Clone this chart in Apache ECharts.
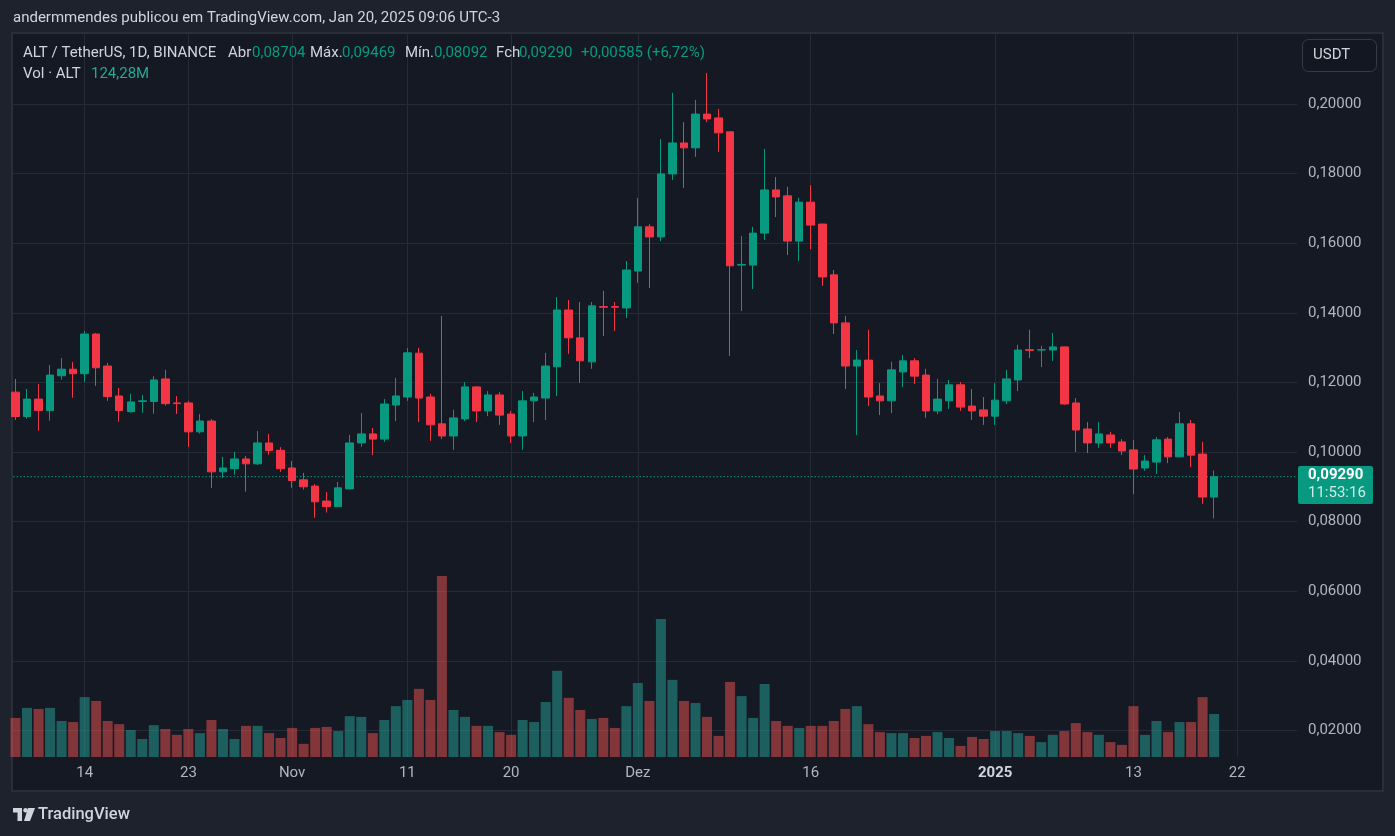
<!DOCTYPE html>
<html><head><meta charset="utf-8">
<script src="https://cdn.jsdelivr.net/npm/echarts@6/dist/echarts.min.js"></script>
<style>html,body{margin:0;padding:0;background:#1e222d;}#c{width:1395px;height:836px;}</style>
</head><body><div id="c"></div>
<script>
// ---- data ----
const dates = [
 '2024-10-08','2024-10-09','2024-10-10','2024-10-11','2024-10-12','2024-10-13','2024-10-14','2024-10-15','2024-10-16','2024-10-17',
 '2024-10-18','2024-10-19','2024-10-20','2024-10-21','2024-10-22','2024-10-23','2024-10-24','2024-10-25','2024-10-26','2024-10-27',
 '2024-10-28','2024-10-29','2024-10-30','2024-10-31','2024-11-01','2024-11-02','2024-11-03','2024-11-04','2024-11-05','2024-11-06',
 '2024-11-07','2024-11-08','2024-11-09','2024-11-10','2024-11-11','2024-11-12','2024-11-13','2024-11-14','2024-11-15','2024-11-16',
 '2024-11-17','2024-11-18','2024-11-19','2024-11-20','2024-11-21','2024-11-22','2024-11-23','2024-11-24','2024-11-25','2024-11-26',
 '2024-11-27','2024-11-28','2024-11-29','2024-11-30','2024-12-01','2024-12-02','2024-12-03','2024-12-04','2024-12-05','2024-12-06',
 '2024-12-07','2024-12-08','2024-12-09','2024-12-10','2024-12-11','2024-12-12','2024-12-13','2024-12-14','2024-12-15','2024-12-16',
 '2024-12-17','2024-12-18','2024-12-19','2024-12-20','2024-12-21','2024-12-22','2024-12-23','2024-12-24','2024-12-25','2024-12-26',
 '2024-12-27','2024-12-28','2024-12-29','2024-12-30','2024-12-31','2025-01-01','2025-01-02','2025-01-03','2025-01-04','2025-01-05',
 '2025-01-06','2025-01-07','2025-01-08','2025-01-09','2025-01-10','2025-01-11','2025-01-12','2025-01-13','2025-01-14','2025-01-15',
 '2025-01-16','2025-01-17','2025-01-18','2025-01-19','2025-01-20'
];
const opens = [
 0.1172,0.1102,0.1152,0.1119,0.1219,0.1238,0.1225,0.1339,0.1247,0.1161,
 0.1116,0.1145,0.1145,0.1210,0.1141,0.1141,0.1058,0.1089,0.0943,0.0952,
 0.0980,0.0966,0.1026,0.1005,0.0954,0.0920,0.0902,0.0859,0.0843,0.0894,
 0.1026,0.1052,0.1037,0.1135,0.1158,0.1284,0.1158,0.1081,0.1046,0.1095,
 0.1187,0.1118,0.1164,0.1109,0.1046,0.1147,0.1155,0.1245,0.1408,0.1328,
 0.1259,0.1418,0.1418,0.1414,0.1520,0.1647,0.1618,0.1799,0.1888,0.1874,
 0.1971,0.1960,0.1920,0.1537,0.1537,0.1629,0.1753,0.1736,0.1606,0.1718,
 0.1655,0.1509,0.1371,0.1247,0.1264,0.1161,0.1147,0.1230,0.1262,0.1221,
 0.1118,0.1147,0.1193,0.1132,0.1121,0.1103,0.1147,0.1207,0.1294,0.1293,
 0.1293,0.1302,0.1141,0.1066,0.1026,0.1049,0.1029,0.1006,0.0954,0.0971,
 0.1037,0.0986,0.1081,0.0994,0.08704
];
const closes = [
 0.1102,0.1152,0.1119,0.1221,0.1238,0.1225,0.1339,0.1242,0.1159,0.1119,
 0.1144,0.1147,0.1207,0.1139,0.1139,0.1058,0.1089,0.0943,0.0954,0.0980,
 0.0966,0.1026,0.1004,0.0952,0.0918,0.0900,0.0857,0.0843,0.0897,0.1026,
 0.1052,0.1037,0.1138,0.1161,0.1285,0.1155,0.1078,0.1046,0.1098,0.1187,
 0.1118,0.1164,0.1106,0.1046,0.1147,0.1158,0.1247,0.1408,0.1328,0.1262,
 0.1420,0.1416,0.1416,0.1523,0.1647,0.1618,0.1799,0.1888,0.1874,0.1971,
 0.1957,0.1917,0.1535,0.1539,0.1629,0.1753,0.1733,0.1606,0.1718,0.1652,
 0.1503,0.1371,0.1247,0.1264,0.1158,0.1147,0.1236,0.1262,0.1218,0.1118,
 0.1152,0.1193,0.1129,0.1118,0.1103,0.1149,0.1210,0.1293,0.1292,0.1294,
 0.1302,0.1138,0.1063,0.1026,0.1052,0.1026,0.1003,0.0951,0.0974,0.1035,
 0.0986,0.1081,0.0991,0.08705,0.09290
];
const lows = [
 0.1092,0.1096,0.1061,0.1090,0.1208,0.1156,0.1201,0.1190,0.1147,0.1087,
 0.1113,0.1113,0.1110,0.1133,0.1109,0.1015,0.1053,0.0897,0.0926,0.0935,
 0.0886,0.0963,0.0992,0.0943,0.0897,0.0892,0.0811,0.0826,0.0842,0.0893,
 0.1015,0.0991,0.1029,0.1089,0.1147,0.1086,0.1032,0.1037,0.1006,0.1089,
 0.1086,0.1103,0.1078,0.1026,0.1006,0.1086,0.1092,0.1161,0.1282,0.1198,
 0.1239,0.1333,0.1348,0.1385,0.1486,0.1471,0.1606,0.1782,0.1759,0.1848,
 0.1948,0.1862,0.1276,0.1405,0.1468,0.1609,0.1675,0.1566,0.1549,0.1583,
 0.1477,0.1339,0.1181,0.1049,0.1132,0.1106,0.1112,0.1187,0.1195,0.1098,
 0.1109,0.1124,0.1118,0.1092,0.1078,0.1078,0.1138,0.1175,0.1270,0.1244,
 0.1262,0.1136,0.1000,0.0997,0.1012,0.1012,0.0991,0.0879,0.0946,0.0937,
 0.0968,0.0985,0.0957,0.0851,0.08092
];
const highs = [
 0.1210,0.1181,0.1195,0.1250,0.1270,0.1259,0.1348,0.1342,0.1256,0.1184,
 0.1167,0.1164,0.1218,0.1236,0.1161,0.1147,0.1109,0.1095,0.0986,0.1000,
 0.0989,0.1060,0.1052,0.1014,0.0974,0.0940,0.0908,0.0885,0.0914,0.1049,
 0.1112,0.1069,0.1152,0.1213,0.1299,0.1299,0.1167,0.1391,0.1121,0.1201,
 0.1189,0.1175,0.1172,0.1118,0.1175,0.1170,0.1285,0.1445,0.1437,0.1431,
 0.1431,0.1463,0.1431,0.1549,0.1730,0.1655,0.1899,0.2032,0.1948,0.2012,
 0.2089,0.1986,0.1920,0.1621,0.1647,0.1871,0.1790,0.1762,0.1730,0.1767,
 0.1656,0.1523,0.1391,0.1293,0.1351,0.1198,0.1259,0.1279,0.1270,0.1239,
 0.1210,0.1207,0.1201,0.1181,0.1158,0.1198,0.1236,0.1308,0.1351,0.1305,
 0.1342,0.1303,0.1155,0.1086,0.1086,0.1058,0.1037,0.1035,0.0991,0.1043,
 0.1043,0.1115,0.1092,0.1029,0.09469
];
// volume in millions of ALT
const volumes = [
 113,142,139,142,104,101,173,162,104,95,
 78,52,92,81,64,81,69,107,81,52,
 90,90,69,55,84,38,84,87,75,118,
 116,69,107,147,165,197,165,523,136,116,
 90,90,72,64,107,101,159,249,171,136,
 110,113,84,147,214,162,399,223,162,156,
 116,61,217,176,113,211,104,90,84,90,
 90,104,139,147,95,72,69,69,55,61,
 72,55,32,58,52,75,75,69,61,43,
 64,75,98,72,64,43,35,147,64,104,
 72,101,101,173,124.28
];
const xTickDates = ['2024-10-14','2024-10-23','2024-11-01','2024-11-11','2024-11-20','2024-12-01','2024-12-16','2025-01-01','2025-01-13','2025-01-22'];
const xTickLabels = ['14','23','Nov','11','20','Dez','16','2025','13','22'];
const yTicks = [0.02,0.04,0.06,0.08,0.10,0.12,0.14,0.16,0.18,0.20];
const headerText = 'andermmendes publicou em TradingView.com, Jan 20, 2025 09:06 UTC-3';
const symbolText = 'ALT / TetherUS, 1D, BINANCE';
const countdownText = '11:53:16';

// ---- style ----
const FONT = 'Roboto, "Noto Sans", sans-serif';
const FS = 15;
const UP = '#089981', DOWN = '#F23645';
const VOL_UP = 'rgba(38,166,154,0.5)', VOL_DOWN = 'rgba(239,83,80,0.5)';
const GRID = '#262a36';
const TXT = '#d1d4dc', AXT = '#b2b5be';
const X_MIN = -0.217, X_MAX = 111.19;

const fmt = v => v.toFixed(5).replace('.', ',');
const day0 = Date.parse(dates[0] + 'T00:00:00Z');
const dayIdx = d => Math.round((Date.parse(d + 'T00:00:00Z') - day0) / 86400000);
const xs = dates.map(dayIdx);
const tickX = xTickDates.map(dayIdx);
const last = dates.length - 1;
const chg = closes[last] - closes[last - 1];
const pct = chg / closes[last - 1] * 100;
const sign = chg >= 0 ? '+' : '-';
const chgText = sign + Math.abs(chg).toFixed(5).replace('.', ',') + ' (' + sign + Math.abs(pct).toFixed(2).replace('.', ',') + '%)';
const volText = volumes[last].toFixed(2).replace('.', ',') + 'M';

function txt(id, x, y, text, color, size, weight) {
  return {id, type: 'text', x, y, silent: true, z: 10,
    style: {text, fill: color, fontSize: size || FS, fontFamily: FONT, fontWeight: weight || 'normal',
      verticalAlign: 'middle', textVerticalAlign: 'middle', align: 'left', textAlign: 'left'}};
}

const graphics = [
  {id: 'panel', type: 'rect', z: -10, silent: true, shape: {x: 12, y: 33, width: 1371, height: 758},
    style: {fill: '#151924', stroke: '#2a2e39', lineWidth: 2}},
  txt('hdr', 13, 18.5, headerText, TXT),
  txt('sym', 23, 53, symbolText, TXT),
  txt('oL', 228, 53, 'Abr', TXT), txt('oV', 252, 53, fmt(opens[last]), UP),
  txt('hL', 310, 53, 'Máx.', TXT), txt('hV', 342, 53, fmt(highs[last]), UP),
  txt('lL', 405, 53, 'Mín.', TXT), txt('lV', 434, 53, fmt(lows[last]), UP),
  txt('cL', 496, 53, 'Fch', TXT), txt('cV', 519, 53, fmt(closes[last]), UP),
  txt('chg', 581, 53, chgText, UP),
  txt('volL', 23, 74.5, 'Vol · ALT', TXT), txt('volV', 91, 74.5, volText, '#22ab94'),
  {id: 'usdtBox', type: 'rect', z: 10, silent: true, shape: {x: 1302.5, y: 39.5, width: 74, height: 32, r: 6},
    style: {fill: '#131722', stroke: '#363a45', lineWidth: 1}},
  txt('usdt', 1313, 55, 'USDT', TXT),
  {id: 'logoA', type: 'polygon', silent: true, shape: {points: [[13,808],[22,808],[22,821],[17.5,821],[17.5,812.5],[13,812.5]]}, style: {fill: TXT}},
  {id: 'logoB', type: 'circle', silent: true, shape: {cx: 25.5, cy: 810.2, r: 2.2}, style: {fill: TXT}},
  {id: 'logoC', type: 'polygon', silent: true, shape: {points: [[28,808],[35,808],[30,821],[24,821]]}, style: {fill: TXT}},
  txt('tv', 38, 814.5, 'TradingView', TXT, 16.5, 500)
];

const candleData = xs.map((x, i) => [x, opens[i], closes[i], lows[i], highs[i]]);
const volData = xs.map((x, i) => ({value: [x, volumes[i]], itemStyle: {color: closes[i] >= opens[i] ? VOL_UP : VOL_DOWN}}));
const lastLine = [[X_MIN, closes[last]], [X_MAX, closes[last]]];

const option = {
  animation: false,
  backgroundColor: '#1e222d',
  grid: {left: 13, right: 98, top: 34, bottom: 79},
  xAxis: {
    type: 'value', min: X_MIN, max: X_MAX,
    axisLine: {show: false},
    axisTick: {show: false, customValues: tickX},
    axisLabel: {
      customValues: tickX, color: AXT, fontSize: FS, fontFamily: FONT, margin: 9,
      formatter: v => { const s = xTickLabels[tickX.indexOf(Math.round(v))]; return s === '2025' ? '{b|2025}' : s; },
      rich: {b: {fontWeight: 'bold', color: TXT, fontSize: FS, fontFamily: FONT}}
    },
    splitLine: {show: true, lineStyle: {color: GRID, width: 1}}
  },
  yAxis: [{
    type: 'value', position: 'right', min: 0.01236, max: 0.22011,
    axisLine: {show: false},
    axisTick: {show: false, customValues: yTicks},
    axisLabel: {customValues: yTicks, formatter: v => fmt(v), color: AXT, fontSize: FS, fontFamily: FONT, margin: 11},
    splitLine: {show: true, lineStyle: {color: GRID, width: 1}}
  }, {
    type: 'value', min: 0, max: 2090, show: false, splitLine: {show: false}
  }],
  series: [{
    type: 'bar', name: 'Vol', xAxisIndex: 0, yAxisIndex: 1, data: volData, barWidth: 10, clip: true, z: 1
  }, {
    type: 'line', name: 'last', xAxisIndex: 0, yAxisIndex: 0, data: lastLine, symbol: 'none', silent: true, z: 2,
    lineStyle: {color: UP, type: [1.5, 2], width: 1}
  }, {
    type: 'candlestick', name: 'ALT', xAxisIndex: 0, yAxisIndex: 0, data: candleData, barWidth: 8, clip: true, z: 3,
    itemStyle: {color: UP, color0: DOWN, borderColor: UP, borderColor0: DOWN, borderWidth: 1}
  }],
  graphic: {elements: graphics}
};

const chart = echarts.init(document.getElementById('c'), null, {renderer: 'canvas', width: 1395, height: 836});
chart.setOption(option);
const py = chart.convertToPixel({yAxisIndex: 0}, closes[last]);
graphics.push({
  id: 'priceTag', type: 'group', x: 1298, y: Math.round(py) - 11, z: 20, silent: true,
  children: [
    {type: 'rect', shape: {x: 0, y: 0, width: 75, height: 38, r: 2}, style: {fill: UP}},
    {type: 'text', x: 10, y: 9.5, style: {text: fmt(closes[last]), fill: '#ffffff', fontSize: FS, fontWeight: 'bold', fontFamily: FONT, verticalAlign: 'middle', textVerticalAlign: 'middle'}},
    {type: 'text', x: 10, y: 27.5, style: {text: countdownText, fill: 'rgba(255,255,255,0.8)', fontSize: FS, fontFamily: FONT, verticalAlign: 'middle', textVerticalAlign: 'middle'}}
  ]
});
chart.setOption(option, true);
</script>
</body></html>
